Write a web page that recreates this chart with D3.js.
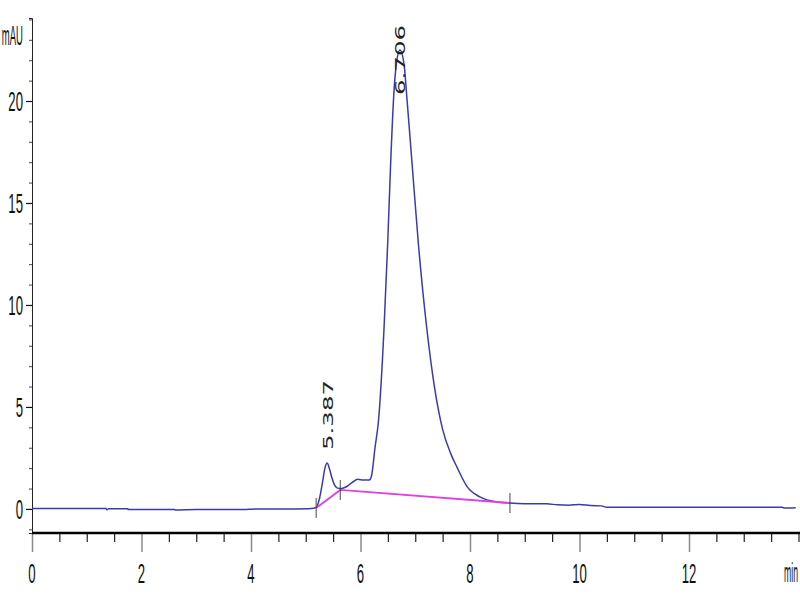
<!DOCTYPE html>
<html>
<head>
<meta charset="utf-8">
<script src="https://cdn.jsdelivr.net/npm/d3@7"></script>
<style>
html,body{margin:0;padding:0;background:#fff;}
svg{display:block;}
</style>
</head>
<body>
<svg id="chart" width="800" height="600"></svg>
<script>
// ---- data ----
const traceTime = [0, 1.35, 1.37, 1.40, 1.75, 1.76, 2.6, 2.62, 3.0, 3.9, 4.0, 4.8, 5.10, 5.19, 5.25, 5.30, 5.35, 5.39, 5.43, 5.48, 5.53, 5.58, 5.65, 5.75, 5.85, 5.95, 6.05, 6.16, 6.20, 6.265, 6.33, 6.43, 6.497, 6.55, 6.61, 6.65, 6.72, 6.80, 6.84, 6.94, 7.056, 7.21, 7.35, 7.50, 7.65, 7.76, 7.95, 8.18, 8.49, 8.73, 9.0, 9.4, 9.6, 9.8, 10.0, 10.2, 10.4, 10.5, 13.7, 13.75, 13.95];
const traceValue = [0.02, 0.02, -0.04, 0.01, 0.01, -0.03, -0.03, -0.05, -0.03, -0.03, -0.01, 0.0, 0.02, 0.08, 0.5, 1.2, 2.0, 2.25, 2.0, 1.5, 1.15, 1.02, 1.0, 1.1, 1.3, 1.45, 1.42, 1.42, 1.6, 3.0, 4.36, 8.87, 13.04, 16.9, 20.4, 21.7, 22.5, 21.7, 20.4, 17.0, 13.04, 8.87, 6.0, 3.9, 2.7, 2.06, 1.08, 0.59, 0.34, 0.29, 0.26, 0.25, 0.2, 0.18, 0.22, 0.17, 0.15, 0.08, 0.08, 0.04, 0.06];

const baselineTime = [5.19, 5.63, 8.73];
const baselineValue = [0.05, 0.93, 0.29];

const peakTimes = [5.387, 6.706];
const peakHeights = [2.25, 22.5];
const peakLabels = ["5.387", "6.706"];

const yTickLabels = ["0", "5", "10", "15", "20"];
const yMajorTicks = [0, 5, 10, 15, 20];
const xTickLabels = ["0", "2", "4", "6", "8", "10", "12"];
const xMajorTicks = [0, 2, 4, 6, 8, 10, 12];
const yUnit = "mAU";
const xUnit = "min";

(function () {
// ---- layout ----
const svg = d3.select("#chart");
const mLeft = 32, mRight = 798.5, mTop = 18, mBottom = 533;
const x = d3.scaleLinear().domain([0, 14]).range([mLeft, mRight]);
const y = d3.scaleLinear().domain([-1.18, 24.07]).range([mBottom, mTop]);

const fontFam = "'Liberation Sans', Arial, sans-serif";
const sx = 0.47;

// Y axis (minor ticks)
const yMinor = d3.range(-1, 25, 1);
const yAxisMinor = d3.axisLeft(y).tickValues(yMinor).tickSize(3).tickFormat("");
const gy = svg.append("g").attr("transform", `translate(${mLeft},0)`).call(yAxisMinor);
gy.select(".domain").attr("stroke", "#222").attr("stroke-width", 1);
gy.selectAll(".tick line").attr("stroke", "#444");
const yAxisMajor = d3.axisLeft(y).tickValues(yMajorTicks).tickSize(6).tickFormat("");
const gy2 = svg.append("g").attr("transform", `translate(${mLeft},0)`).call(yAxisMajor);
gy2.select(".domain").remove();
gy2.selectAll(".tick line").attr("stroke", "#111").attr("stroke-width", 1.2);

// y labels
yMajorTicks.forEach((v, i) => {
  svg.append("text")
    .attr("transform", `translate(23,${y(v) + 10}) scale(${sx},1)`)
    .attr("text-anchor", "end")
    .attr("font-family", fontFam)
    .attr("font-size", 28)
    .attr("fill", "#111")
    .text(yTickLabels[i]);
});
svg.append("text")
  .attr("transform", `translate(23,45) scale(0.34,1)`)
  .attr("text-anchor", "end")
  .attr("font-family", fontFam)
  .attr("font-size", 28)
  .attr("fill", "#111")
  .text(yUnit);

// X axis
const xMinor = d3.range(0, 14.01, 0.5).filter(t => !xMajorTicks.includes(t));
const xAxisMinor = d3.axisBottom(x).tickValues(xMinor).tickSize(9).tickFormat("").tickSizeOuter(0);
const gx = svg.append("g").attr("transform", `translate(0,${mBottom})`).call(xAxisMinor);
gx.select(".domain").remove();
gx.selectAll(".tick line").attr("stroke", "#222").attr("stroke-width", 1.2);
const xAxisMajor = d3.axisBottom(x).tickValues(xMajorTicks).tickSize(19).tickFormat("").tickSizeOuter(0);
const gx2 = svg.append("g").attr("transform", `translate(0,${mBottom})`).call(xAxisMajor);
gx2.select(".domain").remove();
gx2.selectAll(".tick line").attr("stroke", "#8a8a8a").attr("stroke-width", 1.5);
svg.append("line")
  .attr("x1", mLeft).attr("x2", 800).attr("y1", mBottom).attr("y2", mBottom)
  .attr("stroke", "#000").attr("stroke-width", 2.5);

xMajorTicks.forEach((t, i) => {
  svg.append("text")
    .attr("transform", `translate(${x(t)},583) scale(${sx},1)`)
    .attr("text-anchor", "middle")
    .attr("font-family", fontFam)
    .attr("font-size", 28)
    .attr("fill", "#111")
    .text(xTickLabels[i]);
});
svg.append("text")
  .attr("transform", `translate(784,582) scale(0.31,1)`)
  .attr("text-anchor", "start")
  .attr("font-family", fontFam)
  .attr("font-size", 28)
  .attr("fill", "#111")
  .text(xUnit);

// trace
const trace = traceTime.map((t, i) => [t, traceValue[i]]);
const line = d3.line().x(d => x(d[0])).y(d => y(d[1])).curve(d3.curveMonotoneX);
svg.append("path")
  .datum(trace)
  .attr("d", line)
  .attr("fill", "none")
  .attr("stroke", "#3a3ab0")
  .attr("stroke-width", 1.5);

// integration baseline
const base = baselineTime.map((t, i) => [t, baselineValue[i]]);
svg.append("path")
  .datum(base)
  .attr("d", d3.line().x(d => x(d[0])).y(d => y(d[1])))
  .attr("fill", "none")
  .attr("stroke", "#e040e0")
  .attr("stroke-width", 1.8);

// boundary marks
baselineTime.forEach((t, i) => {
  const yy = y(baselineValue[i]);
  svg.append("line")
    .attr("x1", x(t)).attr("x2", x(t))
    .attr("y1", yy - 10).attr("y2", yy + 10)
    .attr("stroke", "#333").attr("stroke-width", 0.9);
});

// peak labels
peakTimes.forEach((t, i) => {
  let yy = y(peakHeights[i]) - 13;
  yy = Math.max(yy, mTop + 77);
  svg.append("text")
    .attr("transform", `translate(${x(t) + 1},${yy}) rotate(-90) scale(1.75,1)`)
    .attr("dominant-baseline", "central")
    .attr("text-anchor", "start")
    .attr("font-family", "'DejaVu Sans', sans-serif")
    .attr("font-size", 14)
    .attr("fill", "#222")
    .text(peakLabels[i]);
});
})();
</script>
</body>
</html>
